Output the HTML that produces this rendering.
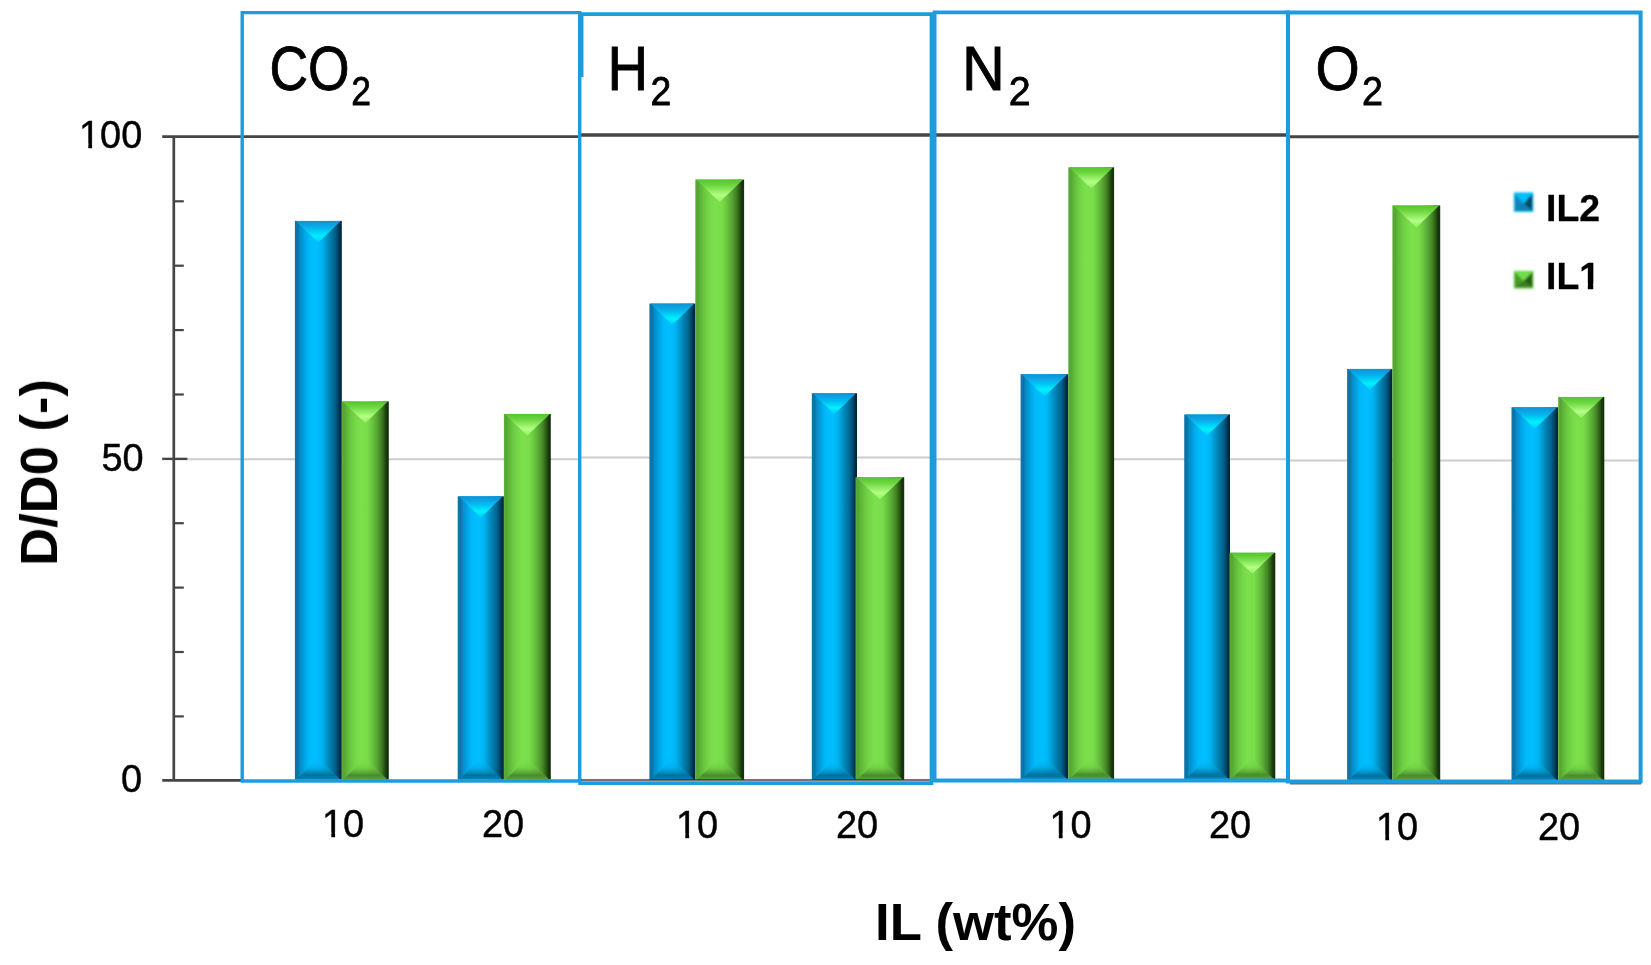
<!DOCTYPE html>
<html lang="en"><head><meta charset="utf-8"><title>D/D0 vs IL content</title>
<style>html,body{margin:0;padding:0;background:#fff}body{width:1651px;height:965px;overflow:hidden}svg{display:block}text{font-family:"Liberation Sans",sans-serif;fill:#000}</style>
</head><body>
<svg width="1651" height="965" viewBox="0 0 1651 965">
<defs>
<linearGradient id="gb" x1="0" y1="0" x2="1" y2="0">
<stop offset="0" stop-color="#0C76A8"/><stop offset="0.05" stop-color="#0673A6"/><stop offset="0.12" stop-color="#078DC8"/><stop offset="0.22" stop-color="#04A8EA"/><stop offset="0.31" stop-color="#00BAFA"/>
<stop offset="0.45" stop-color="#00BFFF"/><stop offset="0.57" stop-color="#00B4F2"/><stop offset="0.66" stop-color="#0599D0"/><stop offset="0.76" stop-color="#067CAC"/><stop offset="0.84" stop-color="#056690"/><stop offset="0.91" stop-color="#04486C"/><stop offset="0.96" stop-color="#032C46"/><stop offset="1" stop-color="#042236"/>
</linearGradient>
<linearGradient id="gg" x1="0" y1="0" x2="1" y2="0">
<stop offset="0" stop-color="#5CAE38"/><stop offset="0.05" stop-color="#54A630"/><stop offset="0.11" stop-color="#5EB638"/><stop offset="0.2" stop-color="#6CCA42"/><stop offset="0.3" stop-color="#76D947"/>
<stop offset="0.4" stop-color="#7CE04C"/><stop offset="0.55" stop-color="#79DC4A"/><stop offset="0.64" stop-color="#6AC640"/><stop offset="0.74" stop-color="#59A834"/><stop offset="0.83" stop-color="#448526"/><stop offset="0.9" stop-color="#2C5C16"/><stop offset="0.95" stop-color="#17380B"/><stop offset="1" stop-color="#142E0A"/>
</linearGradient>
<linearGradient id="tb" x1="0" y1="0" x2="0" y2="1">
<stop offset="0" stop-color="#0A94D2"/><stop offset="0.25" stop-color="#08A8EA"/><stop offset="0.7" stop-color="#00F0FF"/><stop offset="1" stop-color="#00CCFF"/>
</linearGradient>
<linearGradient id="tg" x1="0" y1="0" x2="0" y2="1">
<stop offset="0" stop-color="#58C230"/><stop offset="0.25" stop-color="#6BD63E"/><stop offset="0.7" stop-color="#B4FF86"/><stop offset="1" stop-color="#8EF060"/>
</linearGradient>
<linearGradient id="bb" x1="0" y1="0" x2="0" y2="1">
<stop offset="0" stop-color="#00BEFF" stop-opacity="0"/><stop offset="0.45" stop-color="#04A4DC" stop-opacity="0.6"/><stop offset="0.8" stop-color="#04709C"/><stop offset="1" stop-color="#0585B8"/>
</linearGradient>
<linearGradient id="bg" x1="0" y1="0" x2="0" y2="1">
<stop offset="0" stop-color="#7CE04C" stop-opacity="0"/><stop offset="0.45" stop-color="#6CC840" stop-opacity="0.6"/><stop offset="0.8" stop-color="#4A8A2E"/><stop offset="1" stop-color="#5AA238"/>
</linearGradient>
<filter id="soft0" x="0" y="0" width="1651" height="965" filterUnits="userSpaceOnUse"><feGaussianBlur stdDeviation="0.45"/></filter>
<filter id="soft2" x="-20%" y="-20%" width="140%" height="140%"><feGaussianBlur stdDeviation="0.8"/></filter>
<filter id="soft" x="-5%" y="-5%" width="110%" height="110%"><feGaussianBlur stdDeviation="0.6"/></filter>
</defs>
<rect width="1651" height="965" fill="#fff"/>
<g filter="url(#soft0)">
<g fill="none">
<line x1="186" y1="459.2" x2="580" y2="459.2" stroke="#CDCDCD" stroke-width="2"/>
<line x1="580" y1="457.4" x2="933" y2="457.4" stroke="#CDCDCD" stroke-width="2"/>
<line x1="933" y1="459.3" x2="1288" y2="459.3" stroke="#CDCDCD" stroke-width="2"/>
<line x1="1288" y1="460.6" x2="1640" y2="460.6" stroke="#CDCDCD" stroke-width="2"/>
<line x1="162.2" y1="136.6" x2="580" y2="136.6" stroke="#454545" stroke-width="2.8"/>
<line x1="580" y1="135.0" x2="1288" y2="135.0" stroke="#454545" stroke-width="3.4"/>
<line x1="1288" y1="136.7" x2="1640" y2="136.7" stroke="#454545" stroke-width="3"/>
<line x1="173.8" y1="136.7" x2="173.8" y2="781" stroke="#454545" stroke-width="2.7"/>
<line x1="162.2" y1="780.3" x2="243" y2="780.3" stroke="#454545" stroke-width="2.7"/>
<line x1="1290" y1="783.6" x2="1641" y2="783.6" stroke="#6E625C" stroke-width="1.6"/>
<line x1="173" y1="201.3" x2="183.8" y2="201.3" stroke="#454545" stroke-width="2.2"/>
<line x1="173" y1="265.7" x2="183.8" y2="265.7" stroke="#454545" stroke-width="2.2"/>
<line x1="173" y1="330.1" x2="183.8" y2="330.1" stroke="#454545" stroke-width="2.2"/>
<line x1="173" y1="394.5" x2="183.8" y2="394.5" stroke="#454545" stroke-width="2.2"/>
<line x1="162.2" y1="458.9" x2="187.3" y2="458.9" stroke="#454545" stroke-width="2.4"/>
<line x1="173" y1="523.2" x2="183.8" y2="523.2" stroke="#454545" stroke-width="2.2"/>
<line x1="173" y1="587.6" x2="183.8" y2="587.6" stroke="#454545" stroke-width="2.2"/>
<line x1="173" y1="652.0" x2="183.8" y2="652.0" stroke="#454545" stroke-width="2.2"/>
<line x1="173" y1="716.4" x2="183.8" y2="716.4" stroke="#454545" stroke-width="2.2"/>
</g>
<g filter="url(#soft)">
<rect x="294.9" y="220.9" width="46.9" height="558.7" fill="url(#gb)"/>
<polygon points="295.9,220.9 340.8,220.9 318.4,242.5" fill="url(#tb)"/>
<polygon points="296.4,779.6 340.3,779.6 318.4,758.0" fill="url(#bb)"/>
<rect x="341.8" y="401.4" width="47.0" height="378.2" fill="url(#gg)"/>
<polygon points="342.8,401.4 387.8,401.4 365.3,423.0" fill="url(#tg)"/>
<polygon points="343.3,779.6 387.3,779.6 365.3,758.0" fill="url(#bg)"/>
<rect x="457.7" y="496.3" width="46.2" height="283.3" fill="url(#gb)"/>
<polygon points="458.7,496.3 502.9,496.3 480.8,517.6" fill="url(#tb)"/>
<polygon points="459.2,779.6 502.4,779.6 480.8,758.3" fill="url(#bb)"/>
<rect x="503.9" y="414.0" width="46.9" height="365.6" fill="url(#gg)"/>
<polygon points="504.9,414.0 549.8,414.0 527.3,435.6" fill="url(#tg)"/>
<polygon points="505.4,779.6 549.3,779.6 527.3,758.0" fill="url(#bg)"/>
<rect x="649.4" y="303.6" width="46.0" height="476.2" fill="url(#gb)"/>
<polygon points="650.4,303.6 694.4,303.6 672.4,324.8" fill="url(#tb)"/>
<polygon points="650.9,779.8 693.9,779.8 672.4,758.6" fill="url(#bb)"/>
<rect x="695.3" y="179.6" width="48.8" height="600.2" fill="url(#gg)"/>
<polygon points="696.3,179.6 743.1,179.6 719.7,202.0" fill="url(#tg)"/>
<polygon points="696.8,779.8 742.6,779.8 719.7,757.4" fill="url(#bg)"/>
<rect x="811.8" y="393.2" width="45.2" height="386.6" fill="url(#gb)"/>
<polygon points="812.8,393.2 856.0,393.2 834.4,414.0" fill="url(#tb)"/>
<polygon points="813.3,779.8 855.5,779.8 834.4,759.0" fill="url(#bb)"/>
<rect x="855.5" y="477.2" width="48.7" height="302.6" fill="url(#gg)"/>
<polygon points="856.5,477.2 903.2,477.2 879.9,499.6" fill="url(#tg)"/>
<polygon points="857.0,779.8 902.7,779.8 879.9,757.4" fill="url(#bg)"/>
<rect x="1020.6" y="374.2" width="47.8" height="404.8" fill="url(#gb)"/>
<polygon points="1021.6,374.2 1067.4,374.2 1044.5,396.2" fill="url(#tb)"/>
<polygon points="1022.1,779.0 1066.9,779.0 1044.5,757.0" fill="url(#bb)"/>
<rect x="1068.3" y="167.3" width="45.8" height="611.7" fill="url(#gg)"/>
<polygon points="1069.3,167.3 1113.1,167.3 1091.2,188.4" fill="url(#tg)"/>
<polygon points="1069.8,779.0 1112.6,779.0 1091.2,757.9" fill="url(#bg)"/>
<rect x="1184.2" y="414.5" width="45.8" height="364.5" fill="url(#gb)"/>
<polygon points="1185.2,414.5 1229.0,414.5 1207.1,435.6" fill="url(#tb)"/>
<polygon points="1185.7,779.0 1228.5,779.0 1207.1,757.9" fill="url(#bb)"/>
<rect x="1229.5" y="552.7" width="45.8" height="226.3" fill="url(#gg)"/>
<polygon points="1230.5,552.7 1274.3,552.7 1252.4,573.8" fill="url(#tg)"/>
<polygon points="1231.0,779.0 1273.8,779.0 1252.4,757.9" fill="url(#bg)"/>
<rect x="1347.1" y="368.9" width="45.3" height="411.1" fill="url(#gb)"/>
<polygon points="1348.1,368.9 1391.4,368.9 1369.8,389.7" fill="url(#tb)"/>
<polygon points="1348.6,780.0 1390.9,780.0 1369.8,759.2" fill="url(#bb)"/>
<rect x="1392.4" y="205.4" width="47.8" height="574.6" fill="url(#gg)"/>
<polygon points="1393.4,205.4 1439.2,205.4 1416.3,227.4" fill="url(#tg)"/>
<polygon points="1393.9,780.0 1438.7,780.0 1416.3,758.0" fill="url(#bg)"/>
<rect x="1511.5" y="407.2" width="46.7" height="372.8" fill="url(#gb)"/>
<polygon points="1512.5,407.2 1557.2,407.2 1534.8,428.7" fill="url(#tb)"/>
<polygon points="1513.0,780.0 1556.7,780.0 1534.8,758.5" fill="url(#bb)"/>
<rect x="1558.2" y="396.9" width="46.1" height="383.1" fill="url(#gg)"/>
<polygon points="1559.2,396.9 1603.3,396.9 1581.2,418.1" fill="url(#tg)"/>
<polygon points="1559.7,780.0 1602.8,780.0 1581.2,758.8" fill="url(#bg)"/>
</g>
<g fill="none" stroke="#1F9CDD">
<path d="M242.2 782.6 V12.6 H579.7 V781 H240.5" stroke-width="3.4"/>
<path d="M581 780 H931" stroke="#241c1c" stroke-opacity="0.62" stroke-width="2.1"/>
<path d="M581.6 77 V14.2 H931.5 V783.1 H578.2" stroke-width="3.7"/>
<path d="M934.6 782 V12.4 H1288 V780.5 H932.8" stroke-width="3.8"/>
<path d="M1288 10.6 V781.6 M1286 12.5 H1640.6 V781.6 H1286" stroke-width="4"/>
</g>
<text transform="translate(269.5,90.3) scale(0.855,1)" font-size="62.5" stroke="#000" stroke-width="0.9">CO<tspan x="95.56" dy="14.6" font-size="41.5" stroke-width="0.8">2</tspan></text>
<text transform="translate(607.5,90.3) scale(0.9,1)" font-size="62.5" stroke="#000" stroke-width="0.9">H<tspan x="47.78" dy="14.6" font-size="41.5" stroke-width="0.8">2</tspan></text>
<text transform="translate(962,90.3) scale(0.95,1)" font-size="62.5" stroke="#000" stroke-width="0.9">N<tspan x="49.16" dy="14.6" font-size="41.5" stroke-width="0.8">2</tspan></text>
<text transform="translate(1315.5,90.3) scale(0.91,1)" font-size="62.5" stroke="#000" stroke-width="0.9">O<tspan x="51.10" dy="14.6" font-size="41.5" stroke-width="0.8">2</tspan></text>
<g font-size="37.9" stroke="#000" stroke-width="0.45">
<text x="79" y="148">100</text>
<text x="101.5" y="471">50</text>
<text x="121" y="792">0</text>
<text x="322" y="837">10</text>
<text x="482" y="837">20</text>
<text x="676" y="838">10</text>
<text x="836" y="838">20</text>
<text x="1049.5" y="838">10</text>
<text x="1209" y="838">20</text>
<text x="1376" y="840">10</text>
<text x="1538" y="840">20</text>
</g>
<rect x="80.69" y="143.47" width="7.62" height="5.83" fill="#fff"/>
<rect x="92.11" y="143.47" width="7.32" height="5.83" fill="#fff"/>
<rect x="323.69" y="832.47" width="7.62" height="5.83" fill="#fff"/>
<rect x="335.11" y="832.47" width="7.32" height="5.83" fill="#fff"/>
<rect x="677.69" y="833.47" width="7.62" height="5.83" fill="#fff"/>
<rect x="689.11" y="833.47" width="7.32" height="5.83" fill="#fff"/>
<rect x="1051.19" y="833.47" width="7.62" height="5.83" fill="#fff"/>
<rect x="1062.61" y="833.47" width="7.32" height="5.83" fill="#fff"/>
<rect x="1377.69" y="835.47" width="7.62" height="5.83" fill="#fff"/>
<rect x="1389.11" y="835.47" width="7.32" height="5.83" fill="#fff"/>
<text transform="translate(57,565.8) rotate(-90)" font-size="52.5" font-weight="bold">D/D0 (-)</text>
<text x="875" y="940.3" font-size="51.8" font-weight="bold" textLength="201" lengthAdjust="spacingAndGlyphs">IL (wt%)</text>
<g filter="url(#soft2)"><rect x="1513.8" y="192.4" width="19.5" height="19.6" fill="#18C0F0"/><polygon points="1514.8,193.4 1523.55,203.376 1514.8,211.0" fill="#0A86BA"/><polygon points="1532.3,193.4 1532.3,211.0 1523.55,203.376" fill="#064663"/><polygon points="1514.8,210.8 1523.55,203.376 1532.3,210.8" fill="#0A80B0"/><polygon points="1514.3,192.9 1532.8,192.9 1523.55,203.376" fill="#00BEFF"/></g>
<g filter="url(#soft2)"><rect x="1513.9" y="270.9" width="19.4" height="17.6" fill="#5CCB3A"/><polygon points="1514.9,271.9 1523.6000000000001,280.756 1514.9,287.5" fill="#4C9A2E"/><polygon points="1532.3000000000002,271.9 1532.3000000000002,287.5 1523.6000000000001,280.756" fill="#2A5A18"/><polygon points="1514.9,287.3 1523.6000000000001,280.756 1532.3000000000002,287.3" fill="#3C7C22"/><polygon points="1514.4,271.4 1532.8000000000002,271.4 1523.6000000000001,280.756" fill="#70DE46"/></g>
<g font-size="37.4" font-weight="bold" stroke="#000" stroke-width="0.3">
<text x="1546" y="221">IL2</text>
<text x="1546" y="289.3">IL1</text>
</g>
<rect x="1580.39" y="283.78" width="7.42" height="6.82" fill="#fff"/>
<rect x="1593.25" y="283.78" width="6.95" height="6.82" fill="#fff"/>
</g>
</svg></body></html>
